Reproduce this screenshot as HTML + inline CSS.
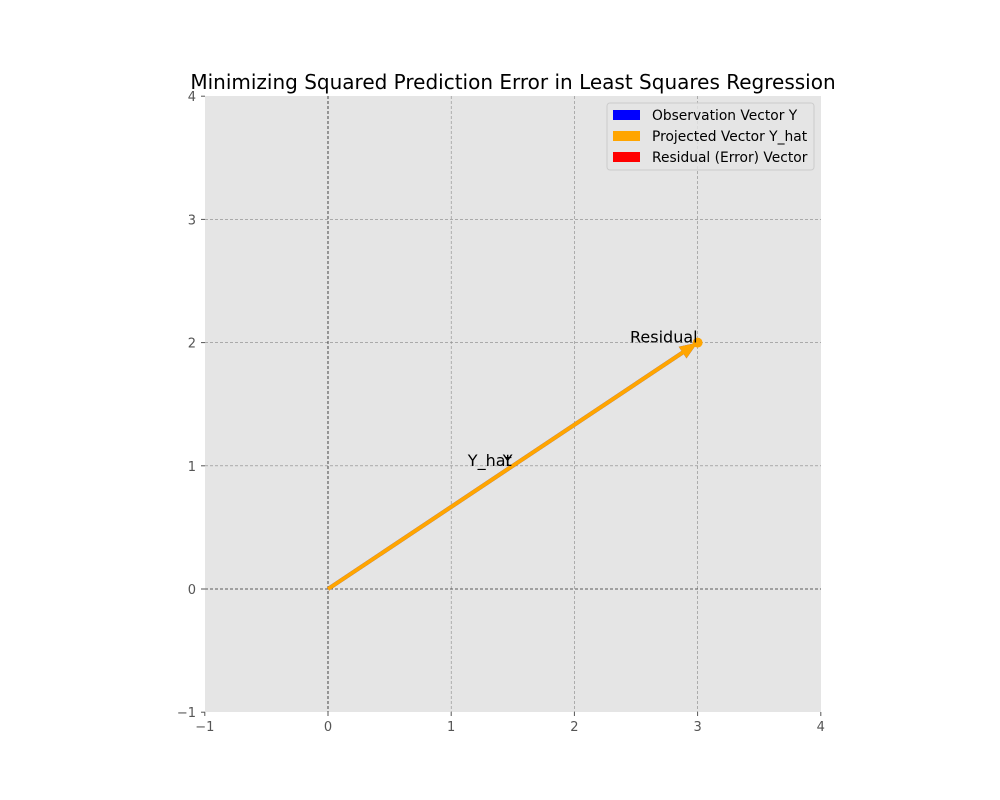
<!DOCTYPE html>
<html><head><meta charset="utf-8"><style>body{margin:0;background:#fff}svg{display:block;font-family:"DejaVu Sans","Liberation Sans",sans-serif}</style></head>
<body>
<svg id="chart" width="1000" height="800">
<text x="513" y="89" text-anchor="middle" font-size="20" fill="#000">Minimizing Squared Prediction Error in Least Squares Regression</text>
<rect x="205" y="96" width="616" height="616" fill="#e5e5e5"/>
<g id="grid"></g><g id="ticks"></g><g id="vectors"></g>
<g>
<rect x="607" y="103" width="207" height="67" rx="3" fill="#e5e5e5" fill-opacity="0.8" stroke="#ccc"/>
<rect x="613" y="110" width="27" height="10" fill="#0000ff"/>
<text x="652" y="120" font-size="13.8">Observation Vector Y</text>
<rect x="613" y="131" width="27" height="10" fill="#ffa500"/>
<text x="652" y="141" font-size="13.8">Projected Vector Y_hat</text>
<rect x="613" y="152" width="27" height="10" fill="#ff0000"/>
<text x="652" y="162" font-size="13.8">Residual (Error) Vector</text>
</g>
</svg>
<script>
const xTicks=[-1,0,1,2,3,4];
const yTicks=[-1,0,1,2,3,4];
const obsVec=[3,2];
const projVec=[3,2];
const residualStart=[3,2];
const residualVec=[0,0];
const NS="http://www.w3.org/2000/svg";
const X=v=>328+(v)*123.2, Y=v=>589-(v)*123.2;
function mk(t,a,p){const e=document.createElementNS(NS,t);for(const k in a)e.setAttribute(k,a[k]);p.appendChild(e);return e;}
const g=document.getElementById('grid'),tk=document.getElementById('ticks'),vg=document.getElementById('vectors');
xTicks.forEach(v=>{
 if(v>xTicks[0]&&v<xTicks[xTicks.length-1]){
 const l=mk('line',{x1:X(v),x2:X(v),y1:96,y2:712,stroke:'#888','stroke-width':0.6,'stroke-dasharray':'3,2'},g);
 
 }
 mk('line',{x1:X(v),x2:X(v),y1:712,y2:716,stroke:'#555'},tk);
 const t=mk('text',{x:X(v),y:731,'text-anchor':'middle','font-size':13,fill:'#555'},tk);
 t.textContent=v<0?'\u2212'+(-v):v;
 
 
});
yTicks.forEach(v=>{
 if(v>yTicks[0]&&v<yTicks[yTicks.length-1]){
 const l=mk('line',{x1:205,x2:821,y1:Y(v),y2:Y(v),stroke:'#888','stroke-width':0.6,'stroke-dasharray':'3,2'},g);
 
 }
 mk('line',{x1:201,x2:205,y1:Y(v),y2:Y(v),stroke:'#555'},tk);
 const t=mk('text',{x:196,y:Y(v)+5,'text-anchor':'end','font-size':13,fill:'#555'},tk);
 t.textContent=v<0?'\u2212'+(-v):v;
 
 
});
const ax=mk('line',{x1:205,x2:821,y1:Y(0),y2:Y(0),stroke:'#000','stroke-width':0.6,'stroke-dasharray':'3,2'},g);

const ay=mk('line',{x1:X(0),x2:X(0),y1:96,y2:712,stroke:'#000','stroke-width':0.6,'stroke-dasharray':'3,2'},g);

function arrow(x0,y0,dx,dy,color,name){
 const sx=X(x0),sy=Y(y0),ex=X(x0+dx),ey=Y(y0+dy);
 const L=Math.hypot(ex-sx,ey-sy);
 if(L<1){const c=mk('circle',{cx:ex,cy:ey,r:5,fill:color},vg);return;}
 const ux=(ex-sx)/L,uy=(ey-sy)/L,px=-uy,py=ux,w=2,hw=7,hl=18;
 const bx=ex-ux*hl,by=ey-uy*hl;
 const pts=[[sx+px*w,sy+py*w],[bx+px*w,by+py*w],[bx+px*hw,by+py*hw],[ex,ey],[bx-px*hw,by-py*hw],[bx-px*w,by-py*w],[sx-px*w,sy-py*w]];
 const p=mk('polygon',{points:pts.map(q=>q.join(',')).join(' '),fill:color},vg);
 
 
}
arrow(0,0,obsVec[0],obsVec[1],'#0000ff','observation-vector');
arrow(0,0,projVec[0],projVec[1],'#ffa500','projected-vector');
arrow(residualStart[0],residualStart[1],residualVec[0],residualVec[1],'#ffa500','residual-vector');
function lab(x,y,s,anchor,name){const t=mk('text',{x:x,y:y,'font-size':16,fill:'#000','text-anchor':anchor},vg);t.textContent=s;}
lab(X(projVec[0]/2)-1,Y(projVec[1]/2)-0,'Y_hat','end','label-y-hat');
lab(X(obsVec[0]/2)-10,Y(obsVec[1]/2)-0,'Y','start','label-y');
lab(X(residualStart[0]),Y(residualStart[1])+0,'Residual','end','label-residual');
</script>
</body></html>
